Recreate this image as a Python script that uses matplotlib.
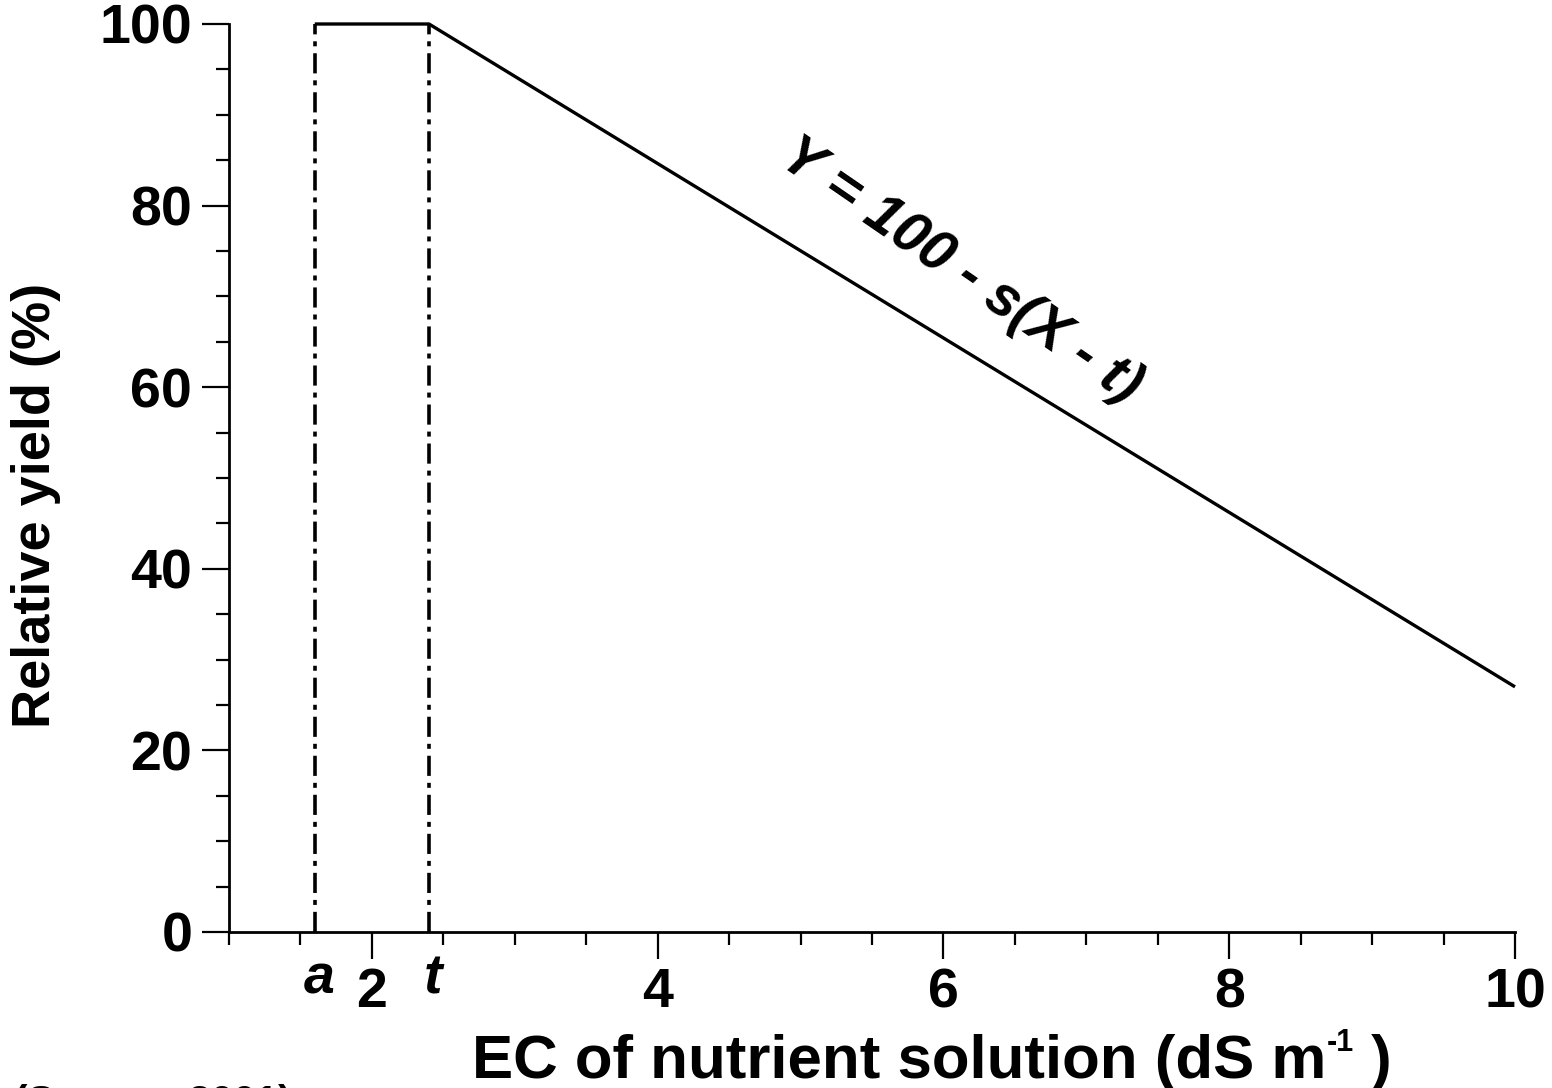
import matplotlib
matplotlib.use("Agg")
import matplotlib.pyplot as plt
from matplotlib.ticker import MultipleLocator, FixedLocator

plt.rcParams['font.family'] = ['Liberation Sans', 'DejaVu Sans']
plt.rcParams['font.weight'] = 'bold'
plt.rcParams['lines.scale_dashes'] = False

# Data
ec_points = [1.6, 2.4, 10.0]
yield_points = [100, 100, 27]
a_value = 1.6
t_value = 2.4
x_major_ticks = [2, 4, 6, 8, 10]
x_major_labels = ['2', '4', '6', '8', '10']
y_major_ticks = [0, 20, 40, 60, 80, 100]
y_major_labels = ['0', '20', '40', '60', '80', '100']
equation = "Y = 100 - s(X - t)"
x_label_main = "EC of nutrient solution (dS m"
x_label_sup = "-1"
x_label_end = " )"
y_label = "Relative yield (%)"
source = "(Savvas, 2001)"

W, H = 1552, 1088
fig = plt.figure(figsize=(W / 100, H / 100), dpi=100)
ax = fig.add_axes([229/W, 1-932/H, (1515-229)/W, (932-24)/H])

ax.plot(ec_points, yield_points, color='black', lw=2.4, clip_on=False,
        solid_capstyle='butt', zorder=3)
for xv in (a_value, t_value):
    ax.plot([xv, xv], [0, 100], color='black', lw=2.6,
            linestyle=(0, (14.5, 5.0, 3.6, 5.0)), clip_on=False)

ax.set_xlim(1, 10)
ax.set_ylim(0, 100)
for s in ('top', 'right'):
    ax.spines[s].set_visible(False)
for s in ('left', 'bottom'):
    ax.spines[s].set_linewidth(2.0)

ax.xaxis.set_major_locator(FixedLocator(x_major_ticks))
ax.set_xticklabels(x_major_labels)
ax.xaxis.set_minor_locator(MultipleLocator(0.5))
ax.yaxis.set_major_locator(FixedLocator(y_major_ticks))
ax.set_yticklabels(y_major_labels)
ax.yaxis.set_minor_locator(MultipleLocator(5))

ax.tick_params(axis='both', which='major', direction='out', length=19.5, width=1.6,
               labelsize=40)
ax.tick_params(axis='both', which='minor', direction='out', length=9.5, width=1.6)
ax.tick_params(axis='x', which='major', pad=6)
ax.tick_params(axis='y', which='major', pad=7)
for lab in ax.get_xticklabels() + ax.get_yticklabels():
    lab.set_fontweight('bold')

# italic a and t labels
xt = ax.get_xaxis_transform()
for xv, txt in ((a_value, 'a'), (t_value, 't')):
    ax.text(xv + 0.03, -0.068, txt, transform=xt, ha='center', va='baseline',
            fontsize=40, fontweight='bold', fontstyle='italic', clip_on=False)

ax.text(6.12, 72.8, equation, rotation=-34.5, rotation_mode='anchor',
        ha='center', va='center', fontsize=41, fontweight='bold',
        fontstyle='italic')

# x label with small superscript
r = fig.canvas.get_renderer()
base_y = (H - 1078) / H
t1 = fig.text(0, base_y, x_label_main, ha='left', va='baseline', fontsize=44.5,
              fontweight='bold')
t2 = fig.text(0, base_y, x_label_sup, ha='left', va='baseline', fontsize=22,
              fontweight='bold')
t3 = fig.text(0, base_y, x_label_end, ha='left', va='baseline', fontsize=44.5,
              fontweight='bold')
w1 = t1.get_window_extent(r).width
w2 = t2.get_window_extent(r).width
w3 = t3.get_window_extent(r).width
sup_overlap = 0
total = w1 - sup_overlap + w2 + w3
x0 = 932 - total / 2
t1.set_x(x0 / W)
t2.set_x((x0 + w1 - sup_overlap) / W)
t2.set_y(base_y + 27 / H)
t3.set_x((x0 + w1 - sup_overlap + w2) / W)

fig.text(36/W, 1-505/H, y_label, rotation=90, ha='center', va='center',
         fontsize=39, fontweight='bold')
fig.text(14/W, 1-1084/H, source, ha='left', va='top', fontsize=29,
         fontweight='bold')

fig.savefig('out.png', dpi=100)
